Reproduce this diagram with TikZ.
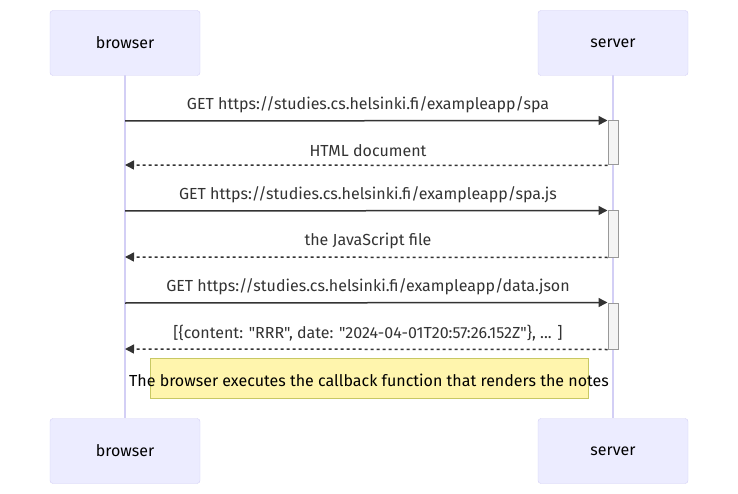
\documentclass[tikz,border=0pt]{standalone}
\usepackage{fontspec}
\setmainfont{Fira Sans}[Ligatures=TeXOff]
\usetikzlibrary{arrows.meta, positioning}
\definecolor{actorfill}{HTML}{ECECFF}
\definecolor{actorline}{HTML}{D3CFF5}
\definecolor{msgline}{HTML}{333333}
\definecolor{notefill}{HTML}{FFF5AD}
\definecolor{noteline}{HTML}{C8C864}
\definecolor{actfill}{HTML}{F4F4F4}
\definecolor{actline}{HTML}{999999}
\tikzset{
  actor/.style={rectangle, rounded corners=3pt, minimum width=150pt, minimum height=65pt, text centered, draw=actorline, fill=actorfill, font=\fontsize{16}{19}\selectfont},
  lifeline/.style={draw=actorline, line width=1.5pt},
  activation/.style={rectangle, draw=actline, fill=actfill, line width=1pt, minimum width=10pt, inner sep=0pt},
  call/.style={draw=msgline, line width=1.5pt, -{Triangle[length=9pt,width=9pt]}},
  reply/.style={draw=msgline, line width=1.5pt, dash pattern=on 3pt off 3pt, -{Triangle[length=9pt,width=9pt]}},
  msg/.style={text=msgline, font=\fontsize{16}{19}\selectfont, inner sep=0pt},
  note/.style={rectangle, draw=noteline, fill=notefill, minimum width=438pt, minimum height=40pt, inner sep=0pt}
}

\begin{document}
\begin{tikzpicture}[x=1pt, y=-1pt]
    \useasboundingbox (0,0) rectangle (738,494);

    % lifelines first, boxes on top
    \coordinate (btop) at (125,75);
    \coordinate (bbot) at (125,418);
    \coordinate (stop) at (613,75);
    \coordinate (sbot) at (613,418);
    \draw[lifeline] (btop) -- (bbot);
    \draw[lifeline] (stop) -- (sbot);

    \node (browser) [actor] at (125,43) {browser};
    \node (server) [actor] at (613,43) {server};
    \node (browser2) [actor] at (125,451) {browser};
    \node (server2) [actor] at (613,451) {server};

    % activation bars on the server
    \node (act1) [activation, minimum height=44pt] at (613,143) {};
    \node (act2) [activation, minimum height=46pt] at (613,234) {};
    \node (act3) [activation, minimum height=46pt] at (613,326) {};

    % messages
    \coordinate (b1) at (125,121);
    \coordinate (b2) at (125,165);
    \coordinate (b3) at (125,211);
    \coordinate (b4) at (125,257);
    \coordinate (b5) at (125,303);
    \coordinate (b6) at (125,349);
    \draw[call] (b1) -- (act1.north west);
    \draw[reply] (act1.south west) -- (b2);
    \draw[call] (b3) -- (act2.north west);
    \draw[reply] (act2.south west) -- (b4);
    \draw[call] (b5) -- (act3.north west);
    \draw[reply] (act3.south west) -- (b6);

    \node (m1) [msg] at (368,105) {GET https://studies.cs.helsinki.fi/exampleapp/spa};
    \node (m2) [msg] at (368,151) {HTML document};
    \node (m3) [msg] at (368,195) {GET https://studies.cs.helsinki.fi/exampleapp/spa.js};
    \node (m4) [msg] at (368,241) {the JavaScript file};
    \node (m5) [msg] at (368,287) {GET https://studies.cs.helsinki.fi/exampleapp/data.json};
    \node (m6) [msg] at (368,333) {[\{content: "RRR", date: "2024-04-01T20:57:26.152Z"\}, ... ]};

    % note over both
    \node (cb) [note] at (369,378) {};
    \node (cbtext) [msg, text=black] at (369,380) {The browser executes the callback function that renders the notes};
  \end{tikzpicture}
\end{document}
